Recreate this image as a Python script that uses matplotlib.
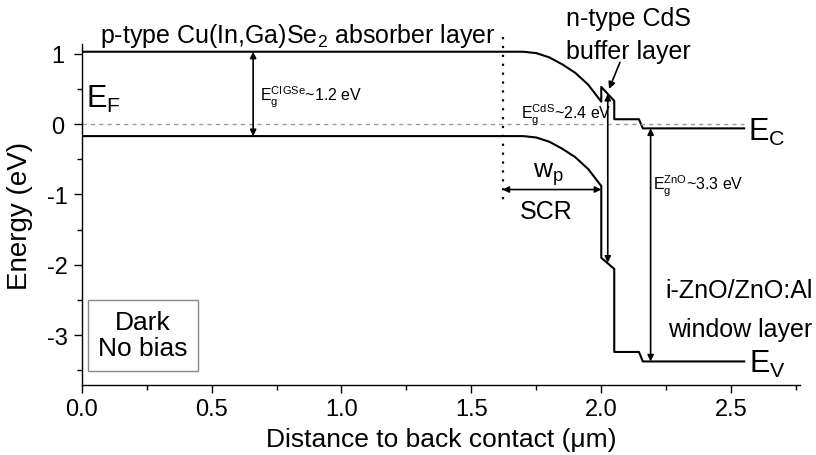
import numpy as np
import matplotlib.pyplot as plt
from matplotlib.ticker import MultipleLocator

plt.rcParams['font.family'] = ['Liberation Sans', 'DejaVu Sans']
plt.rcParams['mathtext.default'] = 'regular'
plt.rcParams['axes.unicode_minus'] = False

# ===============================
# band edges (x in um, energy in eV)
# ===============================
pos = [0.0, 1.70, 1.75, 1.80, 1.85, 1.90, 1.95, 2.00, 2.00, 2.05, 2.05, 2.145, 2.16, 2.55]
ec = [1.03, 1.03, 1.01, 0.95, 0.85, 0.73, 0.56, 0.32, 0.53, 0.33, 0.07, 0.07, -0.06, -0.06]
ev = [-0.17, -0.17, -0.19, -0.25, -0.35, -0.47, -0.64, -0.88, -1.90, -2.06, -3.24, -3.24, -3.375, -3.375]

ef_x = [0.0, 2.55]
ef_y = [0.0, 0.0]

# gap arrows: x, top, bottom
gap_cigse = (0.66, 1.03, -0.17)
gap_cds = (2.025, 0.43, -1.97)
gap_zno = (2.19, -0.06, -3.375)

# space charge region
scr_edge = 1.62
scr_end = 2.00
scr_level = -0.93
scr_line = (1.24, -1.14)

xticks = [0.0, 0.5, 1.0, 1.5, 2.0, 2.5]
yticks = [-3, -2, -1, 0, 1]

# ===============================
# plot
# ===============================
fig = plt.figure(figsize=(8.16, 4.56), dpi=100)
ax = fig.add_axes([81.7 / 816, 1 - 386 / 456, (800 - 81.7) / 816, (386 - 45) / 456])

ax.plot(pos, ec, color='black', lw=1.5)
ax.plot(pos, ev, color='black', lw=1.5)
ax.plot(ef_x, ef_y, color='#999999', lw=1, ls=(0, (3, 3)))

ax.plot([scr_edge, scr_edge], scr_line, color='black', lw=1.6, ls=(0, (1, 3)), clip_on=False)

arrow2 = dict(arrowstyle='<|-|>', color='black', lw=1.2, mutation_scale=9, shrinkA=0, shrinkB=0)
for gx, gt, gb in [gap_cigse, gap_cds, gap_zno]:
    ax.annotate('', xy=(gx, gb), xytext=(gx, gt), arrowprops=arrow2)
ax.annotate('', xy=(scr_end, scr_level), xytext=(scr_edge, scr_level), arrowprops=arrow2)
ax.annotate('', xy=(2.03, 0.50), xytext=(2.072, 0.88),
            arrowprops=dict(arrowstyle='-|>', color='black', lw=1.2, mutation_scale=10,
                            shrinkA=0, shrinkB=0))

# labels
ax.text(0.07, 1.17, 'p-type Cu(In,Ga)Se$_2$ absorber layer', fontsize=18, va='baseline')
ax.text(2.105, 1.406, 'n-type CdS', fontsize=18, ha='center', va='baseline')
ax.text(2.105, 0.943, 'buffer layer', fontsize=18, ha='center', va='baseline')
ax.text(0.017, 0.24, 'E$_F$', fontsize=22, va='baseline')
ax.text(2.563, -0.22, 'E$_C$', fontsize=22, va='baseline')
ax.text(2.57, -3.52, 'E$_V$', fontsize=22, va='baseline')
ax.text(0.686, 0.33, 'E$_g^{CIGSe}$~1.2 eV', fontsize=11.5, va='baseline')
ax.text(1.692, 0.08, 'E$_g^{CdS}$~2.4 eV', fontsize=11.5, va='baseline')
ax.text(2.20, -0.93, 'E$_g^{ZnO}$~3.3 eV', fontsize=11.5, va='baseline')
ax.text(1.736, -0.745, 'w$_p$', fontsize=19, va='baseline')
ax.text(1.686, -1.33, 'SCR', fontsize=18, va='baseline')
ax.text(2.813, -2.46, 'i-ZnO/ZnO:Al', fontsize=18, ha='right', va='baseline')
ax.text(2.813, -3.02, 'window layer', fontsize=18, ha='right', va='baseline')
ax.text(0.236, -3.0, 'Dark\nNo bias', fontsize=19, ha='center', va='center',
        multialignment='center', linespacing=1.1,
        bbox=dict(boxstyle='square,pad=0.4', fc='white', ec='#888888', lw=1))

ax.set_xlim(0, 2.765)
ax.set_ylim(-3.71, 1.14)
ax.set_xticks(xticks)
ax.set_yticks(yticks)
ax.xaxis.set_minor_locator(MultipleLocator(0.25))
ax.yaxis.set_minor_locator(MultipleLocator(0.5))
ax.tick_params(which='major', direction='out', length=6, width=1, labelsize=17)
ax.tick_params(which='minor', direction='out', length=3.5, width=1)
ax.tick_params(axis='y', which='major', pad=11.3)
ax.set_xticklabels([f'{v:.1f}' for v in xticks])
ax.set_yticklabels([str(v) for v in yticks], ha='center')

for s in ['top', 'right']:
    ax.spines[s].set_visible(False)
for s in ['left', 'bottom']:
    ax.spines[s].set_linewidth(1)

ax.set_xlabel('Distance to back contact (\u03bcm)', fontsize=19, va='center')
ax.xaxis.set_label_coords(0.5, -0.158)
ax.set_ylabel('Energy (eV)', fontsize=20, va='center')
ax.yaxis.set_label_coords(-0.0859, 0.5)

fig.savefig('out.png', dpi=100)
